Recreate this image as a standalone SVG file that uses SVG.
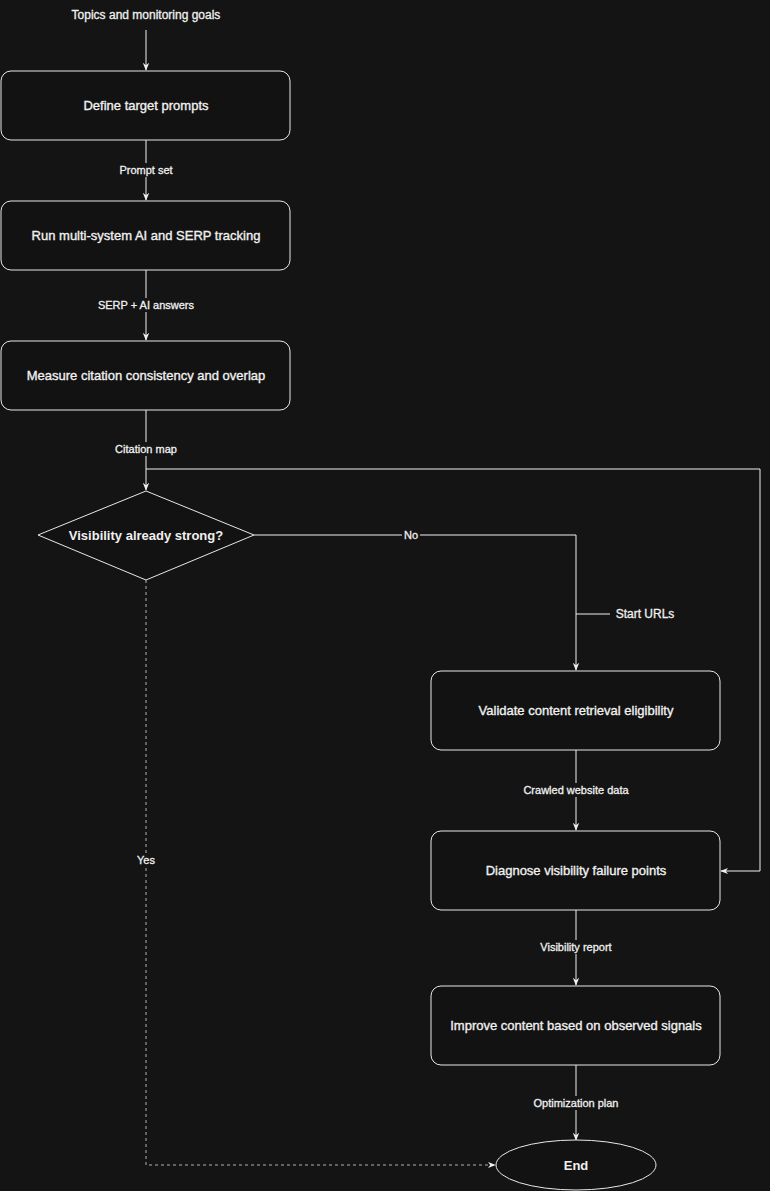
<svg xmlns="http://www.w3.org/2000/svg" width="770" height="1191" viewBox="0 0 770 1191">
<style>
.node rect,.node ellipse,.node polygon{fill:#121212;stroke:#e8e8e8;stroke-width:1}
.nt{font-family:"Liberation Sans",Arial,sans-serif;font-size:13px;fill:#f0f0f0;stroke:#f0f0f0;stroke-width:0.35;text-anchor:middle;dominant-baseline:central}
.dt{font-family:"Liberation Sans",Arial,sans-serif;font-size:13px;font-weight:bold;fill:#f0f0f0;text-anchor:middle;dominant-baseline:central}
.el{font-family:"Liberation Sans",Arial,sans-serif;font-size:11px;fill:#f0f0f0;stroke:#f0f0f0;stroke-width:0.3;text-anchor:middle;dominant-baseline:central}
.lb{fill:#141414}
.e{fill:none;stroke:#f0f0f0;stroke-width:1;marker-end:url(#ah)}
.e2{fill:none;stroke:#f0f0f0;stroke-width:1}
.d{fill:none;stroke:#b0b0b0;stroke-width:1;stroke-dasharray:3 3;marker-end:url(#ah)}
</style>
<defs>
<marker id="ah" viewBox="0 0 10 10" refX="9" refY="5" markerWidth="8" markerHeight="8" markerUnits="userSpaceOnUse" orient="auto">
<path d="M0,1 L10,5 L0,9 L3,5 Z" fill="#f0f0f0"/>
</marker>
</defs>
<rect width="770" height="1191" fill="#141414"/>
<g id="connectors">
<path class="e" d="M146,30 V70"/>
<path class="e" d="M146,140 V200"/>
<path class="e" d="M146,270 V340"/>
<path class="e" d="M146,410 V490"/>
<path class="e" d="M146,469 H760 V871 H721"/>
<path class="e" d="M254,535 H576 V670"/>
<path class="e2" d="M576,614 H610"/>
<path class="e" d="M576,750 V830"/>
<path class="e" d="M576,910 V985"/>
<path class="e" d="M576,1065 V1140"/>
<path class="d" d="M146,580 V1165 H495"/>
<rect class="lb" x="116" y="163" width="60" height="14"/>
<rect class="lb" x="83" y="298" width="126" height="14"/>
<rect class="lb" x="112" y="442" width="68" height="14"/>
<rect class="lb" x="402" y="528" width="18" height="14"/>
<rect class="lb" x="520" y="783" width="112" height="14"/>
<rect class="lb" x="536" y="940" width="80" height="14"/>
<rect class="lb" x="528" y="1096" width="96" height="14"/>
<rect class="lb" x="134" y="853" width="24" height="14"/>
<text class="el" x="146" y="15" style="font-size:12px">Topics and monitoring goals</text>
<text class="el" x="146" y="170">Prompt set</text>
<text class="el" x="146" y="305">SERP + AI answers</text>
<text class="el" x="146" y="449">Citation map</text>
<text class="el" x="411" y="535">No</text>
<text class="el" x="645" y="614" style="font-size:12px">Start URLs</text>
<text class="el" x="576" y="790">Crawled website data</text>
<text class="el" x="576" y="947">Visibility report</text>
<text class="el" x="576" y="1103">Optimization plan</text>
<text class="el" x="146" y="860">Yes</text>
</g>
<g id="n1" class="node"><rect x="1" y="71" width="289" height="69" rx="10"/><text class="nt" x="146" y="105">Define target prompts</text></g>
<g id="n2" class="node"><rect x="1" y="201" width="289" height="69" rx="10"/><text class="nt" x="146" y="235">Run multi-system AI and SERP tracking</text></g>
<g id="n3" class="node"><rect x="1" y="341" width="289" height="69" rx="10"/><text class="nt" x="146" y="375">Measure citation consistency and overlap</text></g>
<g id="n4" class="node"><polygon points="146,491 254,535 146,580 38,535"/><text class="dt" x="146" y="535">Visibility already strong?</text></g>
<g id="n5" class="node"><rect x="431" y="671" width="289" height="79" rx="10"/><text class="nt" x="576" y="710">Validate content retrieval eligibility</text></g>
<g id="n6" class="node"><rect x="431" y="831" width="289" height="79" rx="10"/><text class="nt" x="576" y="870">Diagnose visibility failure points</text></g>
<g id="n7" class="node"><rect x="431" y="986" width="289" height="79" rx="10"/><text class="nt" x="576" y="1025">Improve content based on observed signals</text></g>
<g id="n8" class="node"><ellipse cx="576" cy="1165" rx="80" ry="25"/><text class="nt" x="576" y="1165" style="font-weight:bold;stroke-width:0">End</text></g>
</svg>
